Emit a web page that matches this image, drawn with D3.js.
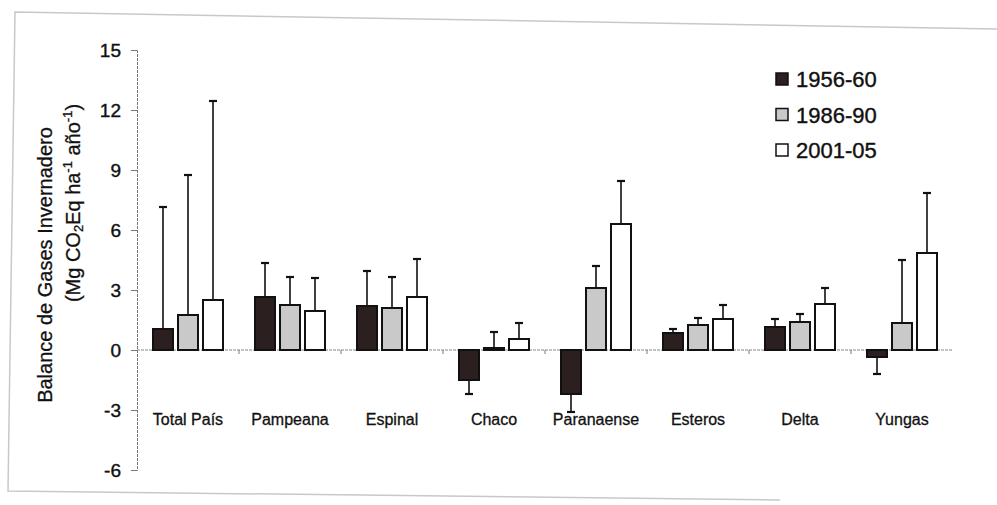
<!DOCTYPE html>
<html>
<head>
<meta charset="utf-8">
<script src="https://cdn.jsdelivr.net/npm/d3@7"></script>
<style>
  body { margin: 0; background: #fff; }
  text { font-family: "Liberation Sans", Arial, sans-serif; fill: #111; }
</style>
</head>
<body>
<svg id="chart" width="997" height="505"></svg>
<script>
// categories and series
const regions = ["Total País", "Pampeana", "Espinal", "Chaco", "Paranaense", "Esteros", "Delta", "Yungas"];
const periods = ["1956-60", "1986-90", "2001-05"];

// mean balance per period (Mg CO2Eq ha-1 año-1)
const mean5660 = [1.05, 2.65, 2.2, -1.5, -2.2, 0.85, 1.15, -0.35];
const mean8690 = [1.75, 2.25, 2.1, 0.1, 3.1, 1.25, 1.4, 1.35];
const mean0105 = [2.5, 1.95, 2.65, 0.55, 6.3, 1.55, 2.3, 4.85];

// end of the error bar per period
const err5660 = [7.15, 4.35, 3.95, -2.2, -3.1, 1.05, 1.55, -1.2];
const err8690 = [8.75, 3.65, 3.65, 0.9, 4.2, 1.6, 1.8, 4.5];
const err0105 = [12.45, 3.6, 4.55, 1.35, 8.45, 2.25, 3.1, 7.85];

const yTicks = [-6, -3, 0, 3, 6, 9, 12, 15];

const means = [mean5660, mean8690, mean0105];
const errs = [err5660, err8690, err0105];
const fills = ["#2b1f1f", "#c9c9c9", "#ffffff"];

const svg = d3.select("#chart");

// faint scan border
svg.append("path")
  .attr("d", "M997,29 L15,12 L8,491 L780,500")
  .attr("fill", "none")
  .attr("stroke", "#c8c8c8")
  .attr("stroke-width", 1.5);

const x0 = d3.scaleBand().domain(regions).range([137, 953]);
const x1 = d3.scaleBand().domain(periods).range([0, x0.bandwidth()]).paddingInner(0.2).paddingOuter(0.64);
const y = d3.scaleLinear().domain([-6, 15]).range([470, 50]);

// y axis (plain hyphen for negatives, as in the original)
const yAxis = svg.append("g")
  .attr("transform", "translate(137,0)")
  .call(d3.axisLeft(y).tickValues(yTicks).tickSize(6).tickPadding(10).tickFormat(d => String(d)));
yAxis.select(".domain").attr("stroke", "#777").attr("stroke-dasharray", "3,1");
yAxis.selectAll(".tick line").attr("stroke", "#777");
yAxis.selectAll(".tick text")
  .style("font-size", "19px")
  .attr("fill", "#111")
  .attr("stroke", "#111")
  .attr("stroke-width", 0.4);

// zero line with group ticks
svg.append("line")
  .attr("x1", 137).attr("x2", 953)
  .attr("y1", y(0)).attr("y2", y(0))
  .attr("stroke", "#888")
  .attr("stroke-dasharray", "3,1");
svg.append("g").selectAll("line")
  .data(regions.slice(1))
  .join("line")
  .attr("x1", d => x0(d)).attr("x2", d => x0(d))
  .attr("y1", y(0)).attr("y2", y(0) + 4)
  .attr("stroke", "#777");

// y title
svg.append("text")
  .attr("transform", "translate(52,265) rotate(-90)")
  .attr("text-anchor", "middle")
  .style("font-size", "20px")
  .attr("stroke", "#111").attr("stroke-width", 0.3)
  .text("Balance de Gases Invernadero");
const sub = svg.append("text")
  .attr("transform", "translate(80,203) rotate(-90)")
  .attr("text-anchor", "middle")
  .style("font-size", "20px")
  .attr("stroke", "#111").attr("stroke-width", 0.3);
sub.append("tspan").text("(Mg CO");
sub.append("tspan").text("2").style("font-size", "13px").attr("dy", 3);
sub.append("tspan").text("Eq ha").attr("dy", -3);
sub.append("tspan").text("-1").style("font-size", "13px").attr("dy", -8);
sub.append("tspan").text(" año").attr("dy", 8);
sub.append("tspan").text("-1").style("font-size", "13px").attr("dy", -8);
sub.append("tspan").text(")").attr("dy", 8);

// bars
const groups = svg.append("g").selectAll("g")
  .data(regions)
  .join("g")
  .attr("transform", d => `translate(${x0(d)},0)`);

groups.each(function (region, ri) {
  const g = d3.select(this);
  periods.forEach((p, pi) => {
    const v = means[pi][ri];
    const e = errs[pi][ri];
    const cx = x1(p) + x1.bandwidth() / 2;
    // error bar
    g.append("line")
      .attr("x1", cx).attr("x2", cx)
      .attr("y1", y(v)).attr("y2", y(e))
      .attr("stroke", "#111").attr("stroke-width", 1.6);
    g.append("line")
      .attr("x1", cx - 4).attr("x2", cx + 4)
      .attr("y1", y(e)).attr("y2", y(e))
      .attr("stroke", "#111").attr("stroke-width", 2.2);
    g.append("rect")
      .attr("x", x1(p))
      .attr("width", x1.bandwidth())
      .attr("y", y(Math.max(0, v)))
      .attr("height", Math.abs(y(v) - y(0)))
      .attr("fill", fills[pi])
      .attr("stroke", "#111")
      .attr("stroke-width", 2);
  });
});

// category labels
svg.append("g").selectAll("text")
  .data(regions)
  .join("text")
  .attr("x", d => x0(d) + x0.bandwidth() / 2)
  .attr("y", 425)
  .attr("text-anchor", "middle")
  .style("font-size", "16px")
  .attr("stroke", "#111").attr("stroke-width", 0.3)
  .text(d => d);

// legend
const legend = svg.append("g").selectAll("g")
  .data(periods)
  .join("g")
  .attr("transform", (d, i) => `translate(776,${79 + i * 35.5})`);
legend.append("rect")
  .attr("x", 0).attr("y", -6)
  .attr("width", 12).attr("height", 12)
  .attr("fill", (d, i) => fills[i])
  .attr("stroke", "#111")
  .attr("stroke-width", 1.5);
legend.append("text")
  .attr("x", 20).attr("y", 8)
  .style("font-size", "22px")
  .attr("stroke", "#111").attr("stroke-width", 0.4)
  .text(d => d);
</script>
</body>
</html>
